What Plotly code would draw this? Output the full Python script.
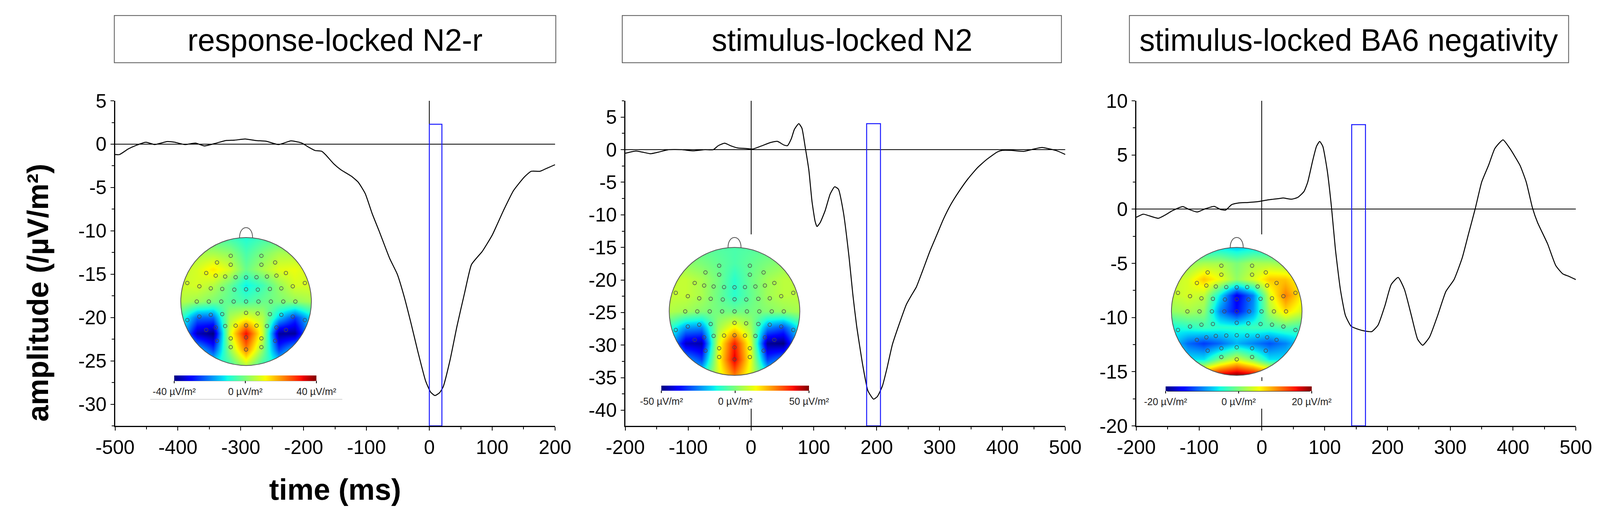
import plotly.graph_objects as go

W, H = 4120, 1313

# ---------------- waveforms ----------------
T_RESP = [-500, -493, -479, -467, -451, -437, -417, -405, -389, -372, -358, -341,
          -324, -310, -293, -276, -259, -240, -220, -203, -192, -182, -171, -164,
          -152, -141, -124, -113, -102, -91, -80, -63, -51, -40, -29, -18, -6, 2,
          9, 16, 22, 33, 44, 56, 67, 78, 84, 100, 118, 134, 151, 162, 176, 185, 200]
A_RESP = [-1.2, -1.2, -0.55, -0.15, 0.23, -0.05, 0.3, 0.22, -0.05, 0.12, -0.2, 0.08,
          0.42, 0.46, 0.6, 0.42, 0.33, -0.05, 0.38, 0.13, -0.35, -0.73, -0.83, -1.3,
          -2.27, -2.94, -3.7, -4.4, -5.7, -8.0, -10.0, -13.2, -15.0, -17.6, -20.7,
          -24.0, -27.3, -28.6, -29.0, -28.7, -28.0, -24.9, -21.0, -17.2, -13.9, -12.9,
          -12.4, -10.5, -7.65, -5.35, -3.8, -3.13, -3.13, -2.85, -2.37]

T_STIM = [-200, -183, -173, -160, -147, -131, -110, -92, -73, -60, -52, -42, -31, -21,
          -8, 3, 16, 31, 42, 52, 58, 64, 69, 76, 81, 86, 92, 97, 102, 105, 110, 118,
          126, 133, 139, 147, 156, 162, 168, 178, 186, 195, 201, 209, 216, 225, 235,
          247, 255, 263, 273, 285, 296, 306, 318, 331, 345, 360, 375, 392, 400, 413,
          434, 450, 463, 476, 487, 500]
A_STIM = [-0.55, -0.2, -0.37, -0.62, -0.37, 0, 0, -0.18, 0, 0, 0.62, 0.99, 0.55, 0.26,
          0.18, 0.1, 0.55, 1.1, 1.28, 0.73, 0.62, 1.65, 3.1, 4.0, 3.3, 0.55, -3.1, -7.9,
          -11.0, -11.8, -11.2, -9.35, -6.8, -5.7, -6.05, -9.6, -16.5, -22.2, -27.0,
          -33.2, -37.0, -38.3, -37.9, -36.3, -33.7, -29.9, -27.0, -23.8, -22.4, -21.1,
          -18.6, -15.5, -13.0, -10.7, -8.4, -6.4, -4.5, -2.8, -1.5, -0.35, -0.1, -0.1,
          -0.26, 0.1, 0.33, 0.1, -0.18, -0.73]

T_BA6 = [-200, -189, -179, -165, -155, -142, -126, -116, -103, -90, -76, -66, -58, -48,
         -37, -22, -6, 10, 26, 34, 47, 57, 67, 73, 81, 87, 92, 97, 104, 111, 117, 125,
         133, 142, 154, 164, 175, 185, 196, 206, 217, 227, 238, 248, 256, 267, 280,
         293, 306, 319, 329, 340, 350, 361, 371, 384, 395, 411, 421, 431, 439, 455,
         468, 479, 489, 500]
A_BA6 = [-0.75, -0.46, -0.62, -0.84, -0.57, -0.13, 0.24, -0.02, -0.26, 0.04, 0.26, -0.02,
         -0.09, 0.42, 0.57, 0.62, 0.7, 0.86, 0.97, 1.03, 0.92, 1.08, 1.63, 2.5, 4.5, 5.8,
         6.25, 5.8, 3.6, 0.1, -3.65, -7.4, -9.8, -10.8, -11.1, -11.25, -11.3, -10.7,
         -8.9, -6.95, -6.3, -7.4, -9.8, -12.0, -12.56, -11.8, -9.8, -7.6, -6.5, -4.5,
         -2.3, 0.1, 2.5, 4.05, 5.6, 6.4, 5.6, 4.05, 2.5, 0.1, -1.23, -3.2, -5.2, -5.96,
         -6.2, -6.5]

PANEL_TITLES = ["response-locked N2-r", "stimulus-locked N2", "stimulus-locked BA6 negativity"]
X_RANGES = [(-500, 200), (-200, 500), (-200, 500)]
Y_RANGES = [(-32.5, 5), (-42.4, 7.5), (-20, 10)]
X_TICKS = [list(range(-500, 201, 100)), list(range(-200, 501, 100)), list(range(-200, 501, 100))]
Y_TICKS = [list(range(-30, 6, 5)), list(range(-40, 6, 5)), list(range(-20, 11, 5))]

# measurement windows (blue boxes)
BOX_START = [0, 184, 143]
BOX_END = [20, 206, 165]
BOX_TOP = [2.3, 4.0, 7.8]

# ---------------- topographies (µV/m², rows from front v=1 to back v=-1) ----------------
GRID = [-1, -0.75, -0.5, -0.25, 0, 0.25, 0.5, 0.75, 1]
TOPO_RESP = [
    [-3, -3, -4, -6, -9, -6, -4, -3, -3],
    [3, 4, 4, 2, -5, 0, 4, 4, 3],
    [6, 8, 13, 8, -2, 4, 9, 10, 7],
    [7, 8, 5, -2, -11, -6, 2, 8, 8],
    [5, 3, 0, -3, -5, -2, 0, 2, 4],
    [-6, -22, -22, 4, 10, 5, -14, -26, -12],
    [-12, -36, -40, 8, 32, 8, -38, -38, -14],
    [-10, -14, -26, 2, 22, 2, -26, -14, -10],
    [-5, -5, -8, -6, 5, -6, -8, -5, -5],
]
TOPO_STIM = [
    [-4, -4, -4, -5, -6, -5, -4, -4, -4],
    [2, 2, 0, -3, -6, -3, 0, 2, 2],
    [8, 8, 5, -1, -10, -2, 4, 7, 7],
    [8, 8, 5, -2, -10, -3, 4, 7, 7],
    [6, 4, 1, -1, -2, -1, 1, 3, 5],
    [-8, -22, -24, 4, 15, 4, -24, -30, -12],
    [-15, -44, -46, 10, 38, 10, -48, -50, -18],
    [-12, -22, -32, 12, 42, 12, -32, -24, -12],
    [-6, -8, -10, 10, 28, 10, -10, -8, -6],
]
TOPO_BA6 = [
    [-6, -6, -6, -6, -7, -6, -6, -6, -6],
    [1, 1, 2, 2, 0, 2, 2, 1, 1],
    [3, 4, 8, 5, 1, 4, 8, 8, 5],
    [3, 4, 3, -6, -16, -10, 4, 11, 6],
    [1, 2, 1, -10, -15, -9, 2, 7, 4],
    [-5, -4, -3, -4, -4, -3, -3, -2, -3],
    [-6, -11, -13, -11, -8, -10, -12, -10, -6],
    [0, -6, -6, 0, 4, 0, -6, -6, 0],
    [12, 12, 14, 18, 20, 18, 14, 12, 12],
]
TOPO_LIMITS = [40, 50, 20]

ELEC_U = [-0.235, 0.235,
          -0.445, -0.235, 0.235, 0.445,
          -0.61, -0.465, -0.32, -0.16, 0, 0.16, 0.32, 0.465, 0.61,
          -0.90, -0.715, -0.54, -0.365, -0.18, 0, 0.18, 0.365, 0.54, 0.715, 0.90,
          -0.755, -0.57, -0.38, -0.19, 0, 0.19, 0.38, 0.57, 0.755,
          -0.90, -0.715, -0.54, -0.365, 0, 0.178, 0.365, 0.54, 0.715, 0.90,
          -0.61, -0.465, -0.32, -0.16, 0, 0.16, 0.32, 0.465, 0.61,
          -0.445, -0.235, 0, 0.235, 0.445,
          -0.235, 0, 0.235]
ELEC_V = [0.715, 0.715,
          0.61, 0.575, 0.575, 0.61,
          0.445, 0.405, 0.39, 0.38, 0.377, 0.38, 0.39, 0.405, 0.445,
          0.29, 0.238, 0.205, 0.197, 0.186, 0.19, 0.186, 0.197, 0.205, 0.238, 0.29,
          0, 0, 0, 0, 0, 0, 0, 0, 0,
          -0.29, -0.236, -0.208, -0.197, -0.178, -0.186, -0.197, -0.208, -0.236, -0.29,
          -0.445, -0.405, -0.383, -0.377, -0.373, -0.377, -0.383, -0.405, -0.445,
          -0.614, -0.576, -0.561, -0.576, -0.614,
          -0.713, -0.75, -0.713]

JET = [[0.0, "rgb(0,0,128)"], [0.11, "rgb(0,0,255)"], [0.125, "rgb(0,8,255)"],
       [0.35, "rgb(0,229,246)"], [0.375, "rgb(20,255,226)"], [0.5, "rgb(124,255,121)"],
       [0.64, "rgb(249,255,0)"], [0.66, "rgb(255,236,0)"], [0.89, "rgb(255,18,0)"],
       [0.91, "rgb(232,0,0)"], [1.0, "rgb(128,0,0)"]]

# ---------------- layout geometry in pixels ----------------
PANEL_X_PX = [(242, 1394), (1578, 2730), (2916, 4067)]
PANEL_Y_PX = (233, 1102)
TITLE_BOX_PX = [(240, 1396), (1570, 2720), (2898, 4048)]
TITLE_BOX_Y_PX = (5, 131)
HEAD_C_PX = [(585, 769.5), (1864, 796), (3179, 796)]
HEAD_R_PX = 171
INSET_PX = [((330, 845), (560, 1036)), ((1612, 2110), (590, 1056)), ((2930, 3410), (590, 1056))]
CBAR_PX = [((401, 765), (967, 981)), ((1677, 2055), (994, 1007)), ((2997, 3371), (997, 1009))]

FONT = "Liberation Sans, Arial, sans-serif"


def px_x(p):
    return p / W


def px_y(p):
    return 1 - p / H


def circle_hole_path(b):
    k = 0.5523
    outer = f"M {-b},{-b} H {b} V {b} H {-b} Z"
    inner = (f"M 1,0 C 1,{-k} {k},-1 0,-1 C {-k},-1 -1,{-k} -1,0 "
             f"C -1,{k} {-k},1 0,1 C {k},1 1,{k} 1,0 Z")
    return outer + " " + inner


fig = go.Figure()
shapes = []
annotations = []

waves = [(T_RESP, A_RESP), (T_STIM, A_STIM), (T_BA6, A_BA6)]
topos = [TOPO_RESP, TOPO_STIM, TOPO_BA6]

for i in range(3):
    n = "" if i == 0 else str(i + 1)
    t, a = waves[i]
    fig.add_trace(go.Scatter(
        x=t, y=a, mode="lines", xaxis="x" + n, yaxis="y" + n,
        line=dict(color="black", width=2.5, shape="spline", smoothing=0.5),
        showlegend=False, hoverinfo="skip",
    ))

    axis_common = dict(
        showline=True, linecolor="black", linewidth=2.5, showgrid=False,
        ticks="outside", ticklen=9, tickwidth=2, tickcolor="black",
        zeroline=True, zerolinecolor="black", zerolinewidth=2,
        tickfont=dict(family=FONT, size=50, color="black"),
    )
    x0, x1 = PANEL_X_PX[i]
    fig.layout["xaxis" + n] = dict(
        axis_common, domain=[px_x(x0), px_x(x1)], range=list(X_RANGES[i]),
        anchor="y" + n, tickmode="array", tickvals=X_TICKS[i],
        ticktext=[str(v) for v in X_TICKS[i]],
        minor=dict(dtick=50, ticks="outside", ticklen=6, tickwidth=2, tickcolor="black"),
    )
    fig.layout["yaxis" + n] = dict(
        axis_common, domain=[px_y(PANEL_Y_PX[1]), px_y(PANEL_Y_PX[0])],
        range=list(Y_RANGES[i]), anchor="x" + n, tickmode="array",
        tickvals=Y_TICKS[i], ticktext=[str(v) for v in Y_TICKS[i]],
        minor=dict(dtick=2.5, ticks="outside", ticklen=6, tickwidth=2, tickcolor="black"),
    )

    # measurement window
    shapes.append(dict(type="rect", xref="x" + n, yref="y" + n,
                       x0=BOX_START[i], x1=BOX_END[i], y0=Y_RANGES[i][0], y1=BOX_TOP[i],
                       line=dict(color="#1a1aff", width=2.5), layer="above"))

    # title box
    bx0, bx1 = TITLE_BOX_PX[i]
    shapes.append(dict(type="rect", xref="paper", yref="paper",
                       x0=px_x(bx0), x1=px_x(bx1),
                       y0=px_y(TITLE_BOX_Y_PX[1]), y1=px_y(TITLE_BOX_Y_PX[0]),
                       line=dict(color="#555555", width=2)))
    annotations.append(dict(text=PANEL_TITLES[i], xref="paper", yref="paper",
                            x=px_x((bx0 + bx1) / 2), y=px_y(70),
                            xanchor="center", yanchor="middle", showarrow=False,
                            font=dict(family=FONT, size=79, color="black")))

    # ---- topography inset ----
    m = str(i + 4)
    (ix0, ix1), (iy0, iy1) = INSET_PX[i]
    cx, cy = HEAD_C_PX[i]
    r = HEAD_R_PX
    fig.layout["xaxis" + m] = dict(domain=[px_x(ix0), px_x(ix1)],
                                   range=[(ix0 - cx) / r, (ix1 - cx) / r],
                                   anchor="y" + m, visible=False)
    fig.layout["yaxis" + m] = dict(domain=[px_y(iy1), px_y(iy0)],
                                   range=[(cy - iy1) / r, (cy - iy0) / r],
                                   anchor="x" + m, visible=False)
    lim = TOPO_LIMITS[i]
    (cbx0, cbx1), (cby0, cby1) = CBAR_PX[i]
    fig.add_trace(go.Heatmap(
        x=GRID, y=GRID, z=topos[i][::-1], zsmooth="best",
        xaxis="x" + m, yaxis="y" + m, colorscale=JET, zmin=-lim, zmax=lim,
        hoverinfo="skip",
        colorbar=dict(orientation="h", x=px_x((cbx0 + cbx1) / 2), xanchor="center",
                      y=px_y(cby0), yanchor="top", len=cbx1 - cbx0, lenmode="pixels",
                      thickness=cby1 - cby0, xpad=0, ypad=0, outlinewidth=0,
                      tickmode="array", tickvals=[-lim, 0, lim],
                      ticktext=[f"-{lim} µV/m²", "0 µV/m²", f"{lim} µV/m²"],
                      ticks="outside", ticklen=6, tickwidth=1.5, tickcolor="black",
                      tickfont=dict(family=FONT, size=25, color="#222222")),
    ))
    fig.add_trace(go.Scatter(
        x=ELEC_U, y=ELEC_V, mode="markers", xaxis="x" + m, yaxis="y" + m,
        marker=dict(symbol="circle-open", size=9, color="#4a4a4a", line=dict(width=1.5)),
        showlegend=False, hoverinfo="skip",
    ))
    shapes.append(dict(type="path", xref="x" + m, yref="y" + m, path=circle_hole_path(1.14),
                       fillcolor="white", line=dict(width=0), layer="above"))
    shapes.append(dict(type="circle", xref="x" + m, yref="y" + m, x0=-1, x1=1, y0=-1, y1=1,
                       line=dict(color="#555555", width=2), layer="above"))
    shapes.append(dict(type="path", xref="x" + m, yref="y" + m,
                       path="M -0.1,0.995 C -0.1,1.21 0.1,1.21 0.1,0.995",
                       line=dict(color="#555555", width=2), layer="above"))
    shapes.append(dict(type="line", xref="paper", yref="paper",
                       x0=px_x(cbx0), x1=px_x(cbx1), y0=px_y(cby1), y1=px_y(cby1),
                       line=dict(color="black", width=2), layer="above"))

# faint frame line below the first topography, and the bit of the zero-time line
# that shows between the third map and its colour bar
shapes.append(dict(type="line", xref="paper", yref="paper", x0=px_x(334), x1=px_x(837),
                   y0=px_y(1031), y1=px_y(1031), line=dict(color="#d4d4d4", width=2)))
shapes.append(dict(type="line", xref="x3", yref="paper", x0=0, x1=0,
                   y0=px_y(982), y1=px_y(972), line=dict(color="black", width=2),
                   layer="above"))

annotations.append(dict(text="amplitude (/µV/m²)", xref="paper", yref="paper",
                        x=px_x(39), y=px_y(746), textangle=-90,
                        xanchor="center", yanchor="middle", showarrow=False,
                        font=dict(family=FONT, size=76, color="black", weight="bold")))
annotations.append(dict(text="time (ms)", xref="paper", yref="paper",
                        x=px_x(818), y=px_y(1272), xanchor="center", yanchor="middle",
                        showarrow=False,
                        font=dict(family=FONT, size=76, color="black", weight="bold")))

fig.update_layout(
    width=W, height=H, autosize=False,
    margin=dict(l=0, r=0, t=0, b=0),
    paper_bgcolor="white", plot_bgcolor="white",
    showlegend=False, shapes=shapes, annotations=annotations,
    font=dict(family=FONT, color="black"),
)

fig.write_html("out.html")
